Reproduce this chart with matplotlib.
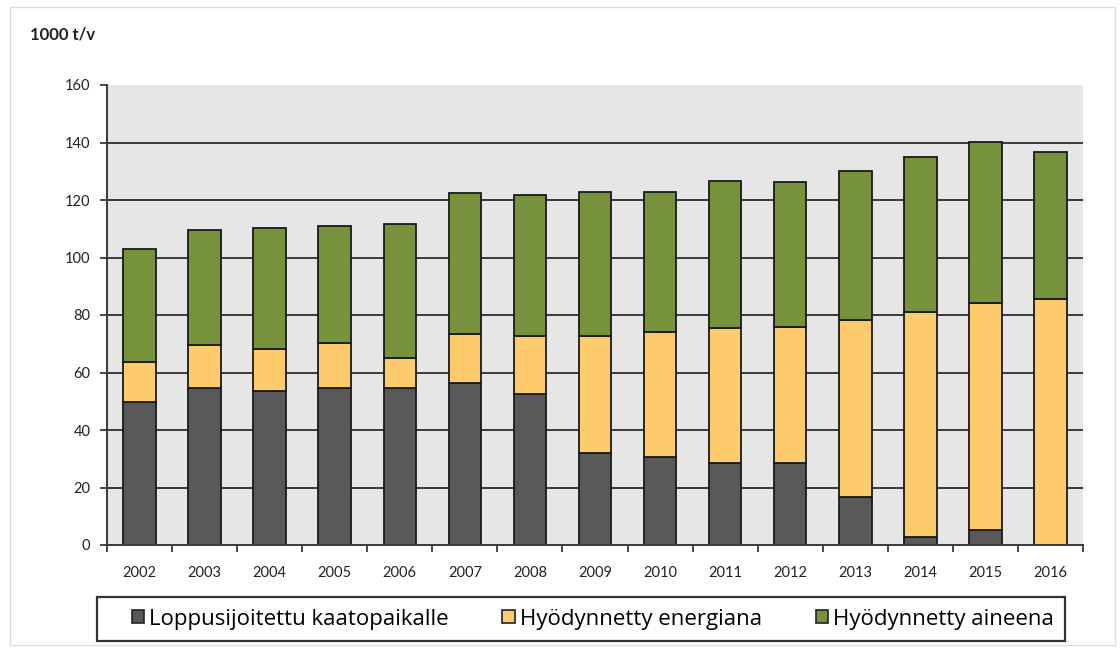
import numpy as np
import matplotlib.pyplot as plt
from matplotlib.patches import Rectangle

years = ["2002", "2003", "2004", "2005", "2006", "2007", "2008", "2009",
         "2010", "2011", "2012", "2013", "2014", "2015", "2016"]
# 1000 t/v (stack tops)
landfill = [49.8, 54.7, 53.6, 54.5, 54.5, 56.2, 52.4, 32.1, 30.5, 28.4, 28.4, 16.8, 2.7, 5.2, 0.0]
energy_top = [63.8, 69.6, 68.2, 70.1, 64.9, 73.3, 72.7, 72.7, 74.0, 75.4, 75.9, 78.3, 81.0, 84.3, 85.7]
total = [103.0, 109.6, 110.3, 111.0, 111.6, 122.4, 121.7, 122.7, 122.9, 126.7, 126.1, 130.1, 135.1, 140.2, 136.6]

energy = np.array(energy_top) - np.array(landfill)
material = np.array(total) - np.array(energy_top)

labels = ["Loppusijoitettu kaatopaikalle", "Hyödynnetty energiana", "Hyödynnetty aineena"]
colors = ["#595959", "#fdca6c", "#76933c"]
yticks = [0, 20, 40, 60, 80, 100, 120, 140, 160]

W, H = 1120, 653
fig = plt.figure(figsize=(W / 100, H / 100), dpi=100)
ax = fig.add_axes([107 / W, 1 - 545 / H, (1083 - 107) / W, (545 - 85) / H])
ax.set_facecolor("#e6e6e6")

# faint outer frame + legend frame
fig.patches.append(Rectangle((10 / W, 8 / H), 1105 / W, 638 / H,
                             transform=fig.transFigure, fill=False,
                             edgecolor="#dddddd", lw=1))
fig.patches.append(Rectangle((97 / W, 1 - 641 / H), 968 / W, 44 / H,
                             transform=fig.transFigure, fill=False,
                             edgecolor="#333333", lw=1.6))

x = np.arange(len(years))
for t in yticks[1:-1]:
    ax.axhline(t, color="#3a3a3a", lw=1.4, zorder=1)

w = 0.5
ax.bar(x, landfill, w, color=colors[0], edgecolor="#1a1a1a", lw=1.3, label=labels[0], zorder=2)
ax.bar(x, energy, w, bottom=landfill, color=colors[1], edgecolor="#1a1a1a", lw=1.3, label=labels[1], zorder=2)
ax.bar(x, material, w, bottom=energy_top, color=colors[2], edgecolor="#1a1a1a", lw=1.3, label=labels[2], zorder=2)

ax.set_xlim(-0.5, len(years) - 0.5)
ax.set_ylim(0, 160)
ax.set_yticks(yticks)
ax.set_xticks(x)
ax.set_xticklabels(years)
ax.set_xticks(np.arange(-0.5, len(years)), minor=True)
ax.tick_params(axis="x", which="major", length=0, pad=15, labelsize=10.5, labelcolor="#222222")
ax.tick_params(axis="x", which="minor", length=5, width=1.3, color="#3a3a3a")
ax.tick_params(axis="y", length=5, width=1.3, color="#3a3a3a", labelsize=10.5,
               labelcolor="#222222", pad=7)
for lab in ax.get_xticklabels() + ax.get_yticklabels():
    lab.set_family("Lato")

for s in ["top", "right"]:
    ax.spines[s].set_visible(False)
for s in ["left", "bottom"]:
    ax.spines[s].set_color("#3a3a3a")
    ax.spines[s].set_linewidth(1.4)

fig.text(30 / W, 1 - 35 / H, "1000 t/v", fontsize=12, fontweight="bold",
         family="Lato", color="#222222", va="center")

leg = fig.legend(loc="center", bbox_to_anchor=(593 / W, 1 - 619 / H),
                 ncol=3, frameon=False, borderaxespad=0,
                 prop={"family": "Open Sans", "size": 16}, handlelength=0.55,
                 handleheight=0.55, handletextpad=0.25, columnspacing=2.4)
for h in leg.legend_handles:
    h.set_edgecolor("#222222")
    h.set_linewidth(1.2)

fig.savefig("out.png", dpi=100)
